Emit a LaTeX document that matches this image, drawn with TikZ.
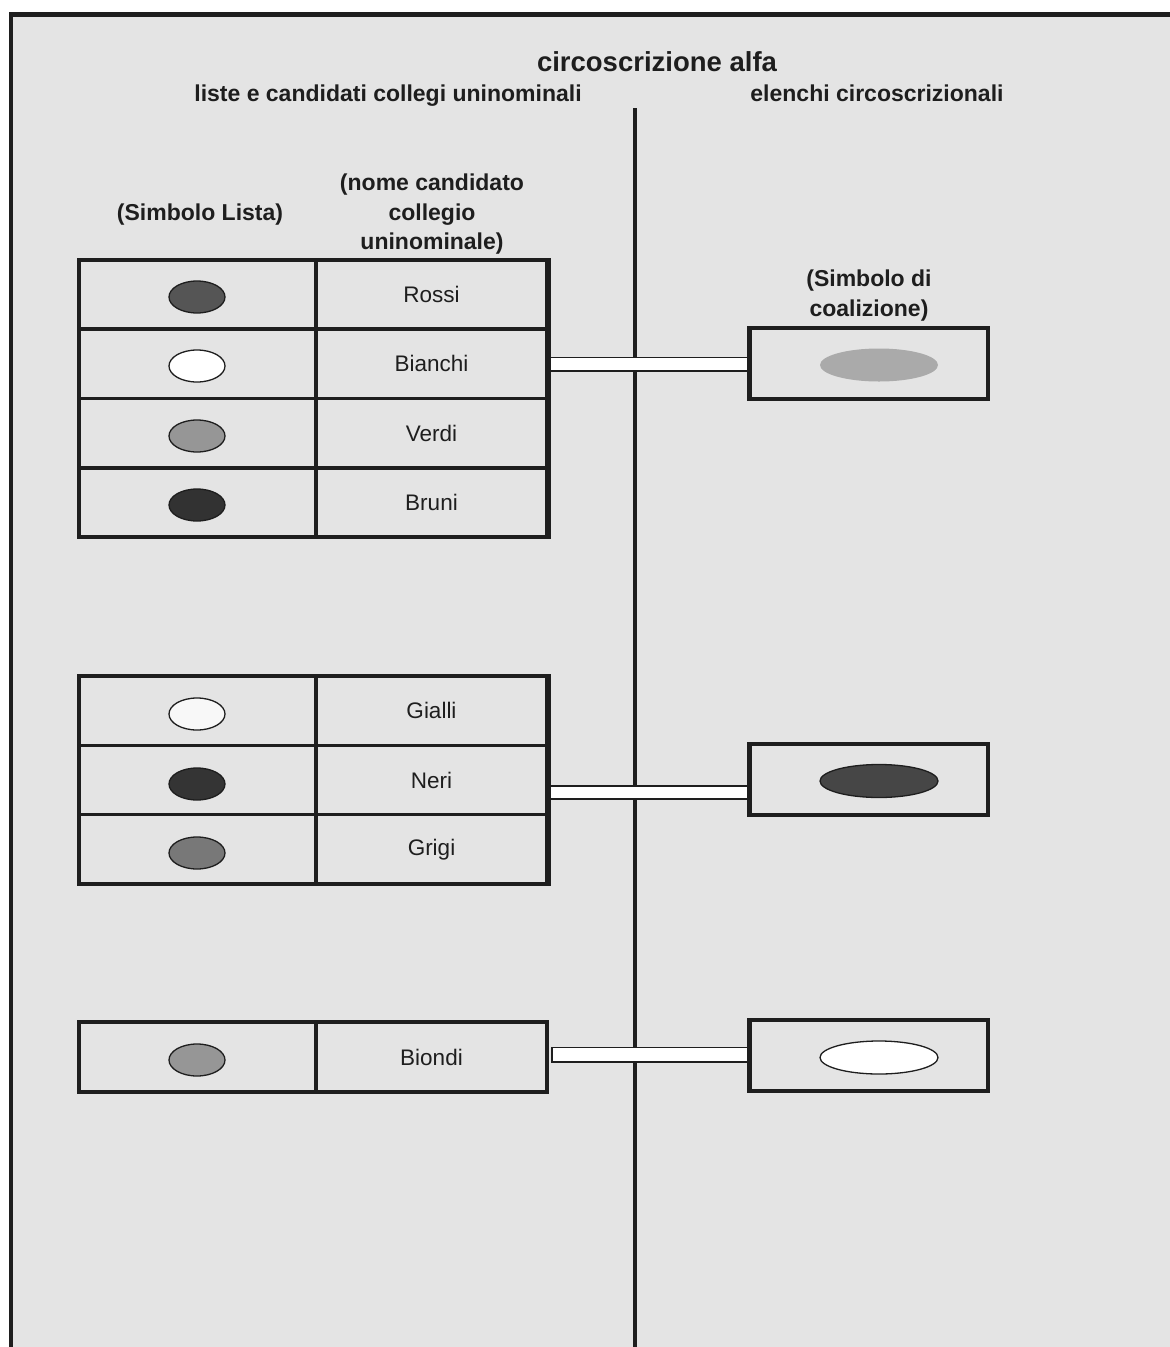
\documentclass[tikz,border=0pt]{standalone}
\usepackage{fontspec}
\setmainfont{Liberation Sans}
\usetikzlibrary{shapes.geometric,calc}
\definecolor{bg}{RGB}{228,228,228}
\definecolor{ink}{RGB}{30,30,30}
\begin{document}
\begin{tikzpicture}[x=1pt,y=-1pt,
  heading/.style={text=ink,font=\fontsize{23}{29.5}\selectfont\bfseries,align=center,inner sep=0pt},
  titletext/.style={text=ink,font=\fontsize{27.5}{32}\selectfont\bfseries,inner sep=0pt},
  lcell/.style={draw=ink,line width=3.5pt,minimum width=237pt,minimum height=#1,inner sep=0pt},
  rcell/.style={draw=ink,line width=3.5pt,minimum width=231pt,minimum height=#1,inner sep=0pt,
     text=ink,font=\fontsize{22.5}{27}\selectfont},
  sym/.style={ellipse,draw=ink,line width=1.3pt,minimum width=56pt,minimum height=32pt,inner sep=0pt},
  cbox/.style={draw=ink,line width=3.5pt,minimum width=238pt,minimum height=71pt,inner sep=0pt},
  csym/.style={ellipse,line width=1.3pt,minimum width=118pt,minimum height=33pt,inner sep=0pt},
  bar/.style={draw=ink,line width=1.5pt,fill=white},
  frameline/.style={draw=ink,line width=4.5pt},
  divider/.style={draw=ink,line width=3.5pt}]
\useasboundingbox (0,0) rectangle (1170,1347);
\fill[bg] (11,14.5) rectangle (1170,1347);
\draw[frameline] (11,1349) -- (11,14.5) -- (1172,14.5);

% headings
\node[titletext] (title) at (657,62) {circoscrizione alfa};
\node[heading,anchor=base] (hleft) at (388,101) {liste e candidati collegi uninominali};
\node[heading,anchor=base] (hright) at (877,101) {elenchi circoscrizionali};
\node[heading] (hsl) at (200,214.5) {(Simbolo Lista)};
\node[heading] (hnc) at (432,214.5) {(nome candidato\\collegio\\uninominale)};
\node[heading] (hsc) at (869,295.5) {(Simbolo di\\coalizione)};

% central divider
\coordinate (vtop) at (635,108);
\coordinate (vbot) at (635,1349);
\draw[divider] (vtop) -- (vbot);

% table 1
\node[lcell=69.25pt] (a1) at (197.5,294.6) {};
\node[rcell=69.25pt] (b1) at (431.5,294.6) {Rossi};
\node[lcell=69.25pt] (a2) at (197.5,363.9) {};
\node[rcell=69.25pt] (b2) at (431.5,363.9) {Bianchi};
\node[lcell=69.25pt] (a3) at (197.5,433.1) {};
\node[rcell=69.25pt] (b3) at (431.5,433.1) {Verdi};
\node[lcell=69.25pt] (a4) at (197.5,502.4) {};
\node[rcell=69.25pt] (b4) at (431.5,502.4) {Bruni};

% table 2
\node[lcell=69.33pt] (a5) at (197.5,710.7) {};
\node[rcell=69.33pt] (b5) at (431.5,710.7) {Gialli};
\node[lcell=69.33pt] (a6) at (197.5,780) {};
\node[rcell=69.33pt] (b6) at (431.5,780) {Neri};
\node[lcell=69.33pt] (a7) at (197.5,849.3) {};
\node[rcell=69.33pt] (b7) at (431.5,849.3) {Grigi};

% table 3
\node[lcell=70pt] (a8) at (197.5,1057) {};
\node[rcell=70pt] (b8) at (431.5,1057) {Biondi};

% coalition boxes
\node[cbox] (c1) at (869,363.5) {};
\node[cbox] (c2) at (869,779.5) {};
\node[cbox] (c3) at (869,1055.5) {};

% connector bars
\draw[bar] ($(b2.east)+(0,-6.5)$) rectangle ($(c1.west)+(0,7.5)$);
\draw[bar] ($(b6.east)+(0,6)$) rectangle ($(c2.west)+(0,19.5)$);
\draw[bar] ($(b8.east)+(3,-9.5)$) rectangle ($(c3.west)+(0,6.5)$);

% redraw box edges over bar ends
\draw[draw=ink,line width=3.5pt] (b1.north east) -- (b4.south east);
\draw[draw=ink,line width=3.5pt] (b5.north east) -- (b7.south east);
\draw[draw=ink,line width=3.5pt] (c1.north west) -- (c1.south west);
\draw[draw=ink,line width=3.5pt] (c2.north west) -- (c2.south west);
\draw[draw=ink,line width=3.5pt] (c3.north west) -- (c3.south west);

% list symbols
\node[sym,fill={rgb,255:red,85;green,85;blue,85}] (s1) at (197,297) {};
\node[sym,fill=white] (s2) at (197,366) {};
\node[sym,fill={rgb,255:red,150;green,150;blue,150}] (s3) at (197,436) {};
\node[sym,fill={rgb,255:red,50;green,50;blue,50}] (s4) at (197,505) {};
\node[sym,fill={rgb,255:red,248;green,248;blue,248}] (s5) at (197,714) {};
\node[sym,fill={rgb,255:red,52;green,52;blue,52}] (s6) at (197,784) {};
\node[sym,fill={rgb,255:red,120;green,120;blue,120}] (s7) at (197,853) {};
\node[sym,fill={rgb,255:red,150;green,150;blue,150}] (s8) at (197,1060) {};

% coalition symbols
\node[csym,fill={rgb,255:red,170;green,170;blue,170}] (k1) at (879,365) {};
\node[csym,draw=ink,fill={rgb,255:red,70;green,70;blue,70}] (k2) at (879,781) {};
\node[csym,draw=ink,fill=white] (k3) at (879,1057.5) {};
\end{tikzpicture}
\end{document}
